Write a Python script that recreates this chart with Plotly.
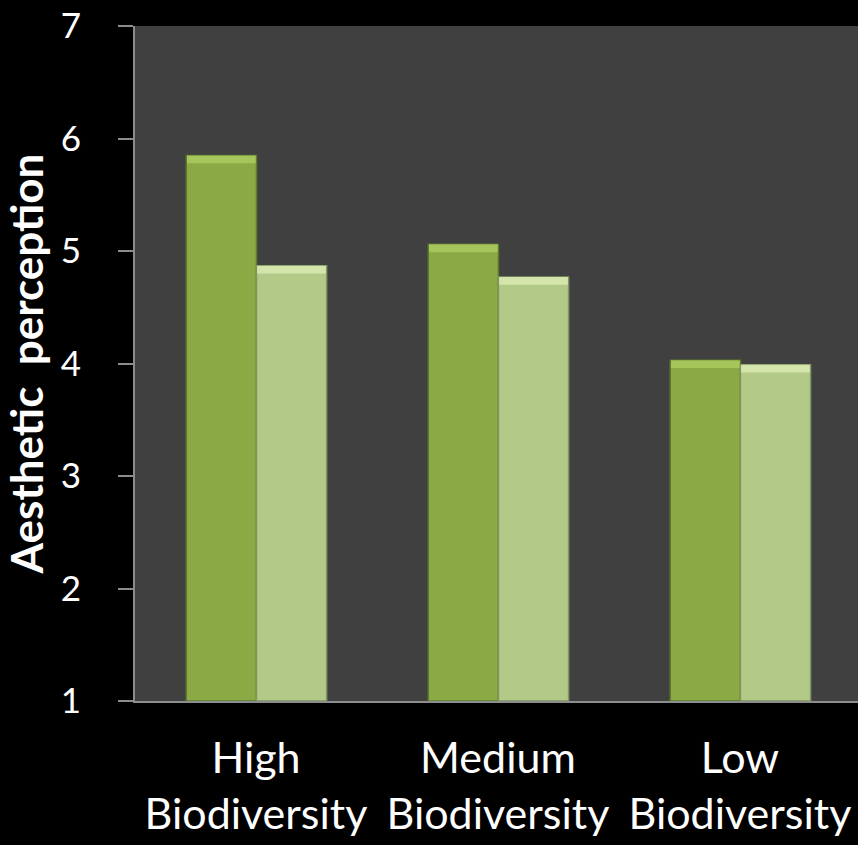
import plotly.graph_objects as go

# Aesthetic perception scores by biodiversity level, two groups per level
categories = ["High<br>Biodiversity", "Medium<br>Biodiversity", "Low<br>Biodiversity"]
group_a = [5.85, 5.06, 4.03]
group_b = [4.87, 4.77, 3.99]
y_ticks = [1, 2, 3, 4, 5, 6, 7]

FONT = "Lato"
BAR_W = 0.29
CAP = 0.07  # height of the bevel highlight on top of each bar

series = [
    (group_a, -BAR_W, "#8BAA46", "#5E7A2C", "#A9C95E"),
    (group_b, 0.0, "#B2C988", "#7F9660", "#D8E9B0"),
]

fig = go.Figure()
for vals, off, body, edge, cap in series:
    fig.add_trace(go.Bar(
        x=categories, y=[v - 1 for v in vals], base=1,
        width=BAR_W, offset=off + 0.002,
        marker=dict(color=body, line=dict(color=edge, width=1.5)),
        hovertext=[f"{v:.2f}" for v in vals], hoverinfo="text",
        showlegend=False,
    ))
    fig.add_trace(go.Bar(
        x=categories, y=[CAP] * len(vals), base=[v - CAP for v in vals],
        width=BAR_W - 0.006, offset=off + 0.005,
        marker=dict(color=cap, line=dict(width=0)),
        opacity=0.9, hoverinfo="skip", showlegend=False,
    ))

fig.update_layout(
    width=858, height=845,
    margin=dict(l=135, r=0, t=26, b=144),
    paper_bgcolor="black", plot_bgcolor="#404040",
    barmode="overlay",
    font=dict(family=FONT, color="white"),
    xaxis=dict(
        range=[-0.5, 2.488], showgrid=False, zeroline=False,
        showline=True, linecolor="#8c8c8c", linewidth=2,
        ticks="", tickfont=dict(size=43, family=FONT, color="white"),
        ticklabelstandoff=18,
        fixedrange=True,
    ),
    yaxis=dict(
        range=[1, 7], tickvals=y_ticks, showgrid=False, zeroline=False,
        showline=True, linecolor="#8c8c8c", linewidth=2,
        ticks="outside", ticklen=15, tickwidth=2, tickcolor="#8c8c8c",
        tickfont=dict(size=35, family=FONT, color="white"),
        ticklabelstandoff=30,
        title=dict(text="<b>Aesthetic  perception</b>", standoff=14,
                   font=dict(size=44, family=FONT, color="white")),
    ),
)

fig.write_html("out.html")
